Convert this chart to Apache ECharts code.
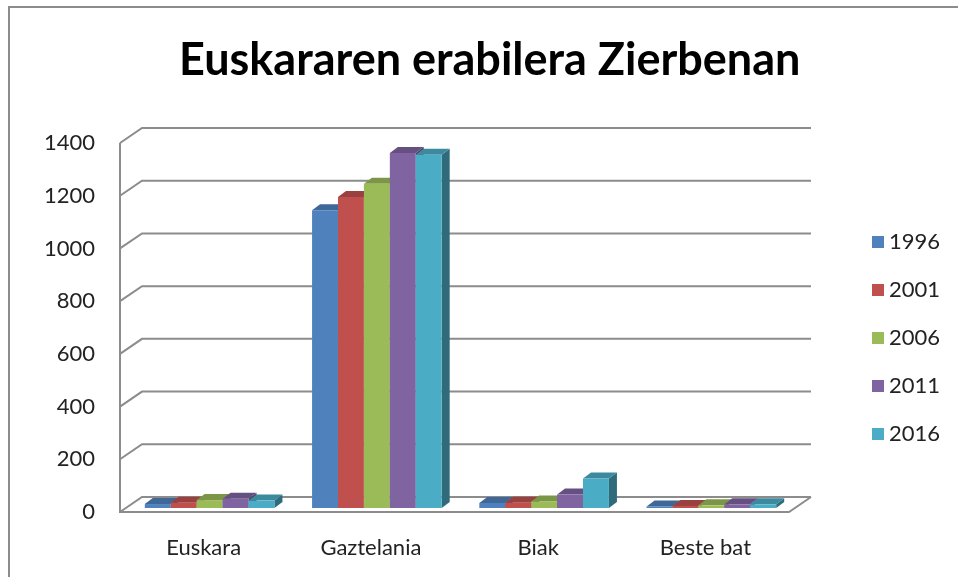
<!DOCTYPE html>
<html>
<head>
<meta charset="utf-8">
<script src="https://cdn.jsdelivr.net/npm/echarts@6/dist/echarts.min.js"></script>
<style>
  html, body { margin: 0; padding: 0; background: #fff; }
  #chart { width: 958px; height: 577px; }
</style>
</head>
<body>
<div id="chart"></div>
<script>
var categories = ['Euskara', 'Gaztelania', 'Biak', 'Beste bat'];
var years = ['1996', '2001', '2006', '2011', '2016'];
var v1996 = [15, 1130, 19, 6];
var v2001 = [20, 1180, 20, 8];
var v2006 = [30, 1230, 25, 10];
var v2011 = [35, 1347, 51, 14];
var v2016 = [28, 1340, 112, 14];
var yTicks = [0, 200, 400, 600, 800, 1000, 1200, 1400];
var colors = ['#4F81BD', '#C0504D', '#9BBB59', '#8064A2', '#4BACC6'];

var allValues = [v1996, v2001, v2006, v2011, v2016];

// depth of the plot box and of each bar (oblique projection)
var WALL_DX = 22, WALL_DY = -15;
var BAR_OX = 6, BAR_OY = -4;
var BAR_DX = 8, BAR_DY = -6;
var GRID_COLOR = '#8c8c8c';

function shade(hex, k) {
    var n = parseInt(hex.slice(1), 16);
    var r = Math.round(((n >> 16) & 255) * k);
    var g = Math.round(((n >> 8) & 255) * k);
    var b = Math.round((n & 255) * k);
    return 'rgb(' + r + ',' + g + ',' + b + ')';
}

function renderWall(params, api) {
    var cs = params.coordSys;
    var v = api.value(1);
    var y = api.coord([0, v])[1];
    var x0 = cs.x, x1 = cs.x + cs.width;
    var children = [{
        type: 'polyline',
        shape: { points: [[x0, y], [x0 + WALL_DX, y + WALL_DY], [x1 + WALL_DX, y + WALL_DY]] },
        style: { stroke: GRID_COLOR, lineWidth: 2, fill: null }
    }];
    if (v === 0) {
        children.push({
            type: 'polyline',
            shape: { points: [[x0, cs.y], [x0, y], [x1, y], [x1 + WALL_DX, y + WALL_DY]] },
            style: { stroke: GRID_COLOR, lineWidth: 2, fill: null }
        });
    }
    return { type: 'group', children: children };
}

function makeBarRenderer(idx) {
    return function (params, api) {
        var cat = api.value(0), val = api.value(1);
        var base = api.coord([cat, 0]);
        var top = api.coord([cat, val]);
        var band = api.size([1, 0])[0];
        var w = band * 0.155;
        var x = base[0] + BAR_OX + (idx - 2.5) * w;
        var yb = base[1] + BAR_OY;
        var yt = top[1] + BAR_OY;
        var c = colors[idx];
        return {
            type: 'group',
            children: [{
                type: 'polygon',
                shape: { points: [[x + w, yt], [x + w + BAR_DX, yt + BAR_DY], [x + w + BAR_DX, yb + BAR_DY], [x + w, yb]] },
                style: { fill: shade(c, 0.62) }
            }, {
                type: 'polygon',
                shape: { points: [[x, yt], [x + w, yt], [x + w + BAR_DX, yt + BAR_DY], [x + BAR_DX, yt + BAR_DY]] },
                style: { fill: shade(c, 0.8) }
            }, {
                type: 'rect',
                shape: { x: x, y: yt, width: w, height: yb - yt },
                style: { fill: c }
            }]
        };
    };
}

var series = [{
    type: 'custom',
    name: 'walls',
    silent: true,
    z: 1,
    renderItem: renderWall,
    encode: { x: 0, y: 1 },
    data: yTicks.map(function (t) { return [0, t]; })
}];
years.forEach(function (yr, i) {
    series.push({
        type: 'custom',
        name: yr,
        z: 2,
        itemStyle: { color: colors[i] },
        renderItem: makeBarRenderer(i),
        encode: { x: 0, y: 1 },
        data: allValues[i].map(function (v, j) { return [j, v]; })
    });
});

var chart = echarts.init(document.getElementById('chart'));
chart.setOption({
    animation: false,
    backgroundColor: '#fff',
    textStyle: { fontFamily: 'Lato' },
    title: {
        text: 'Euskararen erabilera Zierbenan',
        left: 174,
        top: 33,
        textStyle: { fontFamily: 'Lato', fontWeight: 'bold', fontSize: 45, color: '#000' }
    },
    graphic: [{
        type: 'rect',
        shape: { x: 9, y: 7, width: 1200, height: 900 },
        style: { fill: null, stroke: '#8c8c8c', lineWidth: 2 },
        silent: true
    }],
    legend: {
        data: years,
        orient: 'vertical',
        left: 867,
        top: 226,
        icon: 'rect',
        itemWidth: 12,
        itemHeight: 12,
        itemGap: 26,
        textStyle: { fontSize: 22, color: '#222', fontFamily: 'Lato' }
    },
    grid: { left: 120, right: 169, top: 143, bottom: 65 },
    xAxis: {
        type: 'category',
        data: categories,
        axisLine: { show: false },
        axisTick: { show: false },
        axisLabel: { fontSize: 22, color: '#222', margin: 25 }
    },
    yAxis: {
        type: 'value',
        min: 0,
        max: 1400,
        interval: 200,
        axisLine: { show: false },
        axisTick: { show: false },
        splitLine: { show: false },
        axisLabel: {
            fontSize: 22,
            color: '#222',
            margin: 25,
            formatter: function (v) { return String(v); }
        }
    },
    series: series
});
</script>
</body>
</html>
